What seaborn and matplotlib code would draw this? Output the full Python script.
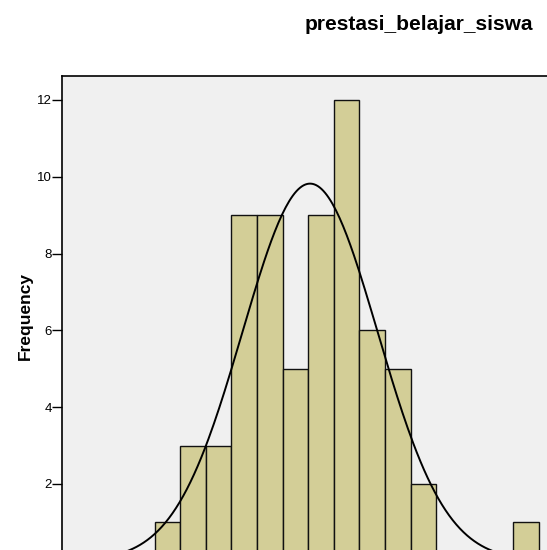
import numpy as np
import pandas as pd
import matplotlib
matplotlib.use("Agg")
import matplotlib.pyplot as plt
import seaborn as sns

sns.set_style("white")
plt.rcParams['font.family'] = ['Liberation Sans', 'DejaVu Sans']
plt.rcParams['text.color'] = 'black'
plt.rcParams['ytick.color'] = 'black'
plt.rcParams['axes.labelcolor'] = 'black'

# histogram (bin width 2.5, first edge at 60)
bin_edges = [60.0, 62.5, 65.0, 67.5, 70.0, 72.5, 75.0, 77.5, 80.0, 82.5,
             85.0, 87.5, 90.0, 92.5, 95.0, 97.5]
counts = [1, 3, 3, 9, 9, 5, 9, 12, 6, 5, 2, 0, 0, 0, 1]
y_ticks = [2, 4, 6, 8, 10, 12]

# fitted normal curve
mean_val = 75.19
std_val = 6.6
n_total = sum(counts)
bin_w = 2.5

centers = [(a + b) / 2 for a, b in zip(bin_edges[:-1], bin_edges[1:])]
df = pd.DataFrame({"prestasi_belajar_siswa": centers, "n": counts})

fig = plt.figure(figsize=(5.47, 5.5), dpi=100)
# axes runs past the bottom/right of the picture like the cropped original
W, H = 547.0, 550.0
left_px, right_px, top_px, zero_px = 62, 562, 75.5, 560.8
ax = fig.add_axes([left_px / W, 1 - zero_px / H,
                   (right_px - left_px) / W, (zero_px - top_px) / H])
ax.set_facecolor("#f0f0f0")

sns.histplot(data=df, x="prestasi_belajar_siswa", weights="n", bins=bin_edges,
             color="#d3ce97", alpha=1, edgecolor="#111111", linewidth=1.0, ax=ax)

xs = np.linspace(40, 110, 400)
ys = n_total * bin_w / (std_val * np.sqrt(2 * np.pi)) * np.exp(-0.5 * ((xs - mean_val) / std_val) ** 2)
ax.plot(xs, ys, color="black", linewidth=1.4)

px_per_unit = 25.6 / bin_w
ax.set_xlim(60 + (left_px - 154.5) / px_per_unit, 60 + (right_px - 154.5) / px_per_unit)
ax.set_ylim(0, (zero_px - top_px) / 38.4)
ax.set_yticks(y_ticks)
ax.set_xticks([])
ax.tick_params(axis='y', direction='out', length=7, width=1, pad=0.5,
               labelsize=9.5, left=True, color='black', labelcolor='black')
for s in ["left", "top", "bottom", "right"]:
    ax.spines[s].set_color("black")
    ax.spines[s].set_linewidth(1.2)

ax.set_xlabel("")
ax.set_ylabel("")
fig.text(25 / W, 1 - 316 / H, "Frequency", rotation=90, ha="center", va="center",
         fontsize=12.5, fontweight="bold")

fig.text(533 / W, 1 - 24 / H, "prestasi_belajar_siswa", ha="right", va="center",
         fontsize=15, fontweight="bold")

fig.savefig("out.png", dpi=100)
